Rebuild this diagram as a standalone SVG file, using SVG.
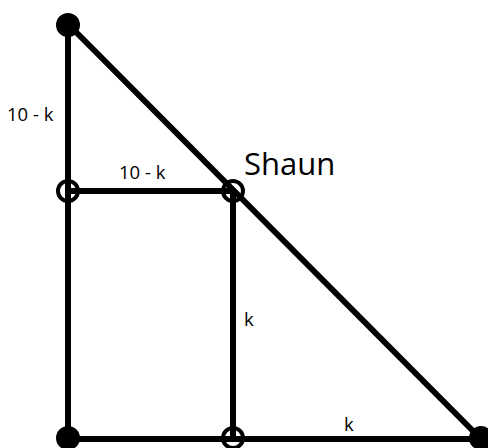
<svg xmlns="http://www.w3.org/2000/svg" width="488" height="448" viewBox="0 0 488 448">
<style>
.ln{stroke:#000;stroke-width:6;fill:none;stroke-linecap:butt}
.open{fill:none;stroke:#000;stroke-width:4}
.solid{fill:#000}
.lbl{font-family:"Open Sans","DejaVu Sans",sans-serif;font-size:18.5px;fill:#000}
.big{font-family:"Open Sans","DejaVu Sans",sans-serif;font-size:31px;fill:#000}
</style>
<rect width="488" height="448" fill="#fff"/>
<g id="connectors">
<line class="ln" x1="68" y1="24" x2="68" y2="439"/>
<line class="ln" x1="68" y1="439" x2="481" y2="439"/>
<line class="ln" x1="68" y1="24" x2="481" y2="439"/>
<line class="ln" x1="68" y1="191" x2="233" y2="191"/>
<line class="ln" x1="233" y1="191" x2="233" y2="439"/>
</g>
<g id="n-top"><circle class="solid" cx="68" cy="25" r="12"/></g>
<g id="n-bl"><circle class="solid" cx="68" cy="438" r="12"/></g>
<g id="n-br"><circle class="solid" cx="481" cy="438" r="12"/></g>
<g id="n-left"><circle class="open" cx="68" cy="191" r="10"/></g>
<g id="n-shaun"><circle class="open" cx="233" cy="191" r="10"/><text class="big" x="244" y="175">Shaun</text></g>
<g id="n-bottom"><circle class="open" cx="233" cy="438" r="10"/></g>
<g id="labels">
<text class="lbl" x="7" y="121">10 - k</text>
<text class="lbl" x="119" y="179">10 - k</text>
<text class="lbl" x="244" y="326">k</text>
<text class="lbl" x="344" y="431">k</text>
</g>
</svg>
